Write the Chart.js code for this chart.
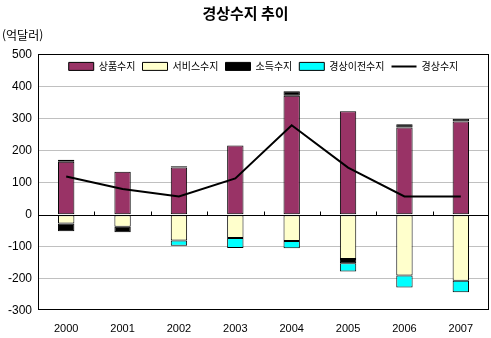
<!DOCTYPE html>
<html lang="ko">
<head>
<meta charset="utf-8">
<title>경상수지 추이</title>
<script src="https://cdn.jsdelivr.net/npm/chart.js@4/dist/chart.umd.min.js"></script>
<style>
  html, body { margin: 0; padding: 0; background: #fff; }
  #wrap { width: 491px; height: 338px; }
</style>
</head>
<body>
<div id="wrap"><canvas id="ca_chart" width="491" height="338"></canvas></div>
<script>
// 경상수지 추이 (단위: 억달러)
const years    = ['2000', '2001', '2002', '2003', '2004', '2005', '2006', '2007'];
const goods    = [165, 134, 147, 216, 371, 323, 272, 291];     // 상품수지
const services = [-28, -38, -81, -73, -82, -138, -190, -206];  // 서비스수지
const income   = [-24, -17, 4, null, 14, -14, 10, 8];          // 소득수지
const transfer = [6, null, -16, -31, -23, -25, -37, -36];      // 경상이전수지
const balance  = [119, 80, 57, 113, 279, 147, 57, 57];         // 경상수지
const yMin = -300, yMax = 500, yStep = 100;

const KR = "'Noto Sans CJK KR', 'Noto Sans', sans-serif";
const NUM = "'Liberation Sans', Arial, sans-serif";

// 범례를 플롯 안쪽 위에 가로로 배치
const innerLegend = {
  id: 'innerLegend',
  afterInit(chart) {
    if (chart.legend) chart.legend.isHorizontal = () => true;
  },
  afterLayout(chart) {
    const lg = chart.legend;
    if (!lg) return;
    lg.left = chart.chartArea.left;
    lg.right = chart.chartArea.right;
  }
};

// 테두리 + 0선 위 눈금
const frameTicks = {
  id: 'frameTicks',
  afterDatasetsDraw(chart) {
    const { ctx, chartArea: a, scales: { x, y } } = chart;
    const y0 = Math.round(y.getPixelForValue(0)) + 0.5;
    ctx.save();
    ctx.strokeStyle = '#000';
    ctx.lineWidth = 1;
    ctx.beginPath();
    ctx.moveTo(a.left, y0); ctx.lineTo(a.right, y0);
    for (let i = 1; i < years.length; i++) {
      const px = Math.round((x.getPixelForTick(i - 1) + x.getPixelForTick(i)) / 2) + 0.5;
      ctx.moveTo(px, y0); ctx.lineTo(px, y0 - 4);
    }
    ctx.stroke();
    ctx.strokeRect(Math.round(a.left) + 0.5, Math.round(a.top) + 0.5,
                   Math.round(a.right - a.left) - 1, Math.round(a.bottom - a.top) - 1);
    ctx.restore();
  }
};

const barStyle = (label, data, color) => ({
  type: 'bar', label, data,
  backgroundColor: color,
  borderColor: '#000',
  borderWidth: 1,
  borderSkipped: false,
  stack: 'bars',
  order: 1,
  categoryPercentage: 1,
  barPercentage: 0.29
});

new Chart(document.getElementById('ca_chart'), {
  data: {
    labels: years,
    datasets: [
      barStyle('상품수지', goods, '#993366'),
      barStyle('서비스수지', services, '#ffffcc'),
      barStyle('소득수지', income, '#000000'),
      barStyle('경상이전수지', transfer, '#00ffff'),
      {
        type: 'line', label: '경상수지', data: balance,
        borderColor: '#000', backgroundColor: '#000',
        borderWidth: 2, pointRadius: 0, tension: 0,
        stack: 'line', order: 0
      }
    ]
  },
  options: {
    responsive: false,
    animation: false,
    layout: { padding: { left: 2, right: 2, top: 2, bottom: -10 } },
    scales: {
      x: {
        stacked: true,
        grid: { display: false, drawTicks: false },
        border: { display: false },
        ticks: { color: '#000', font: { family: NUM, size: 11 }, padding: 12 }
      },
      y: {
        stacked: true,
        min: yMin, max: yMax,
        ticks: { stepSize: yStep, color: '#000', font: { family: NUM, size: 12 }, padding: 6 },
        grid: {
          drawTicks: false,
          color: c => (c.tick.value === 0 || c.tick.value === yMax || c.tick.value === yMin) ? 'rgba(0,0,0,0)' : '#c0c0c0'
        },
        border: { display: false }
      }
    },
    plugins: {
      title: {
        display: true, text: '경상수지 추이', color: '#000',
        font: { family: KR, size: 15, weight: 'bold' },
        padding: { top: 2, bottom: 6 }
      },
      subtitle: {
        display: true, text: '(억달러)', color: '#000', align: 'start',
        font: { family: KR, size: 12 },
        padding: { top: 0, bottom: 12 }
      },
      legend: {
        position: 'chartArea',
        labels: {
          color: '#000',
          font: { family: KR, size: 10 },
          usePointStyle: true,
          pointStyleWidth: 25,
          boxHeight: 8,
          padding: 7,
          sort: (a, b) => a.datasetIndex - b.datasetIndex,
          generateLabels(chart) {
            const items = Chart.defaults.plugins.legend.labels.generateLabels(chart);
            items.forEach(it => {
              it.pointStyle = chart.data.datasets[it.datasetIndex].type === 'line' ? 'line' : 'rect';
            });
            return items;
          }
        }
      },
      tooltip: { enabled: false }
    }
  },
  plugins: [innerLegend, frameTicks]
});
</script>
</body>
</html>
